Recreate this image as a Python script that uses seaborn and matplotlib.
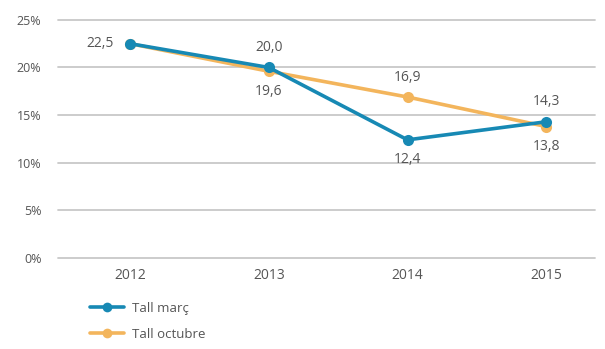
import matplotlib
matplotlib.use("Agg")
import matplotlib.pyplot as plt
import seaborn as sns
import pandas as pd
from matplotlib.lines import Line2D

years = ["2012", "2013", "2014", "2015"]
tall_marc = [22.5, 20.0, 12.4, 14.3]
tall_octubre = [22.5, 19.6, 16.9, 13.8]
y_ticks = [0, 5, 10, 15, 20, 25]
y_tick_labels = ["0%", "5%", "10%", "15%", "20%", "25%"]

blue = "#1789b4"
orange = "#f3b55c"
text_col = "#555555"

sns.set_theme(style="white")
plt.rcParams["font.family"] = ["Open Sans", "DejaVu Sans"]

df = pd.DataFrame({
    "x": list(range(len(years))) * 2,
    "valor": tall_marc + tall_octubre,
    "serie": ["Tall març"] * 4 + ["Tall octubre"] * 4,
})

fig = plt.figure(figsize=(6.05, 3.49), dpi=100)
ax = fig.add_axes([0.096, 0.261, 0.887, 0.682])

sns.lineplot(data=df[df.serie == "Tall octubre"], x="x", y="valor", color=orange,
             lw=2.6, marker="o", markersize=8, markeredgewidth=0, ax=ax, zorder=3)
sns.lineplot(data=df[df.serie == "Tall març"], x="x", y="valor", color=blue,
             lw=2.6, marker="o", markersize=8, markeredgewidth=0, ax=ax, zorder=4)

ax.set_xlim(-0.52, 3.35)
ax.set_ylim(0, 25)
ax.set_yticks(y_ticks)
ax.set_yticklabels(y_tick_labels)
ax.set_xticks(range(len(years)))
ax.set_xticklabels(years)
ax.set_xlabel("")
ax.set_ylabel("")
for s in ax.spines.values():
    s.set_visible(False)
for t in y_ticks:
    ax.axhline(t, color="#c8c8c8", lw=1.3, zorder=1, clip_on=False)
ax.tick_params(axis="both", length=0, colors=text_col)
ax.tick_params(axis="y", pad=12, labelsize=9)
ax.tick_params(axis="x", pad=7, labelsize=10)

def fmt(v):
    return f"{v:.1f}".replace(".", ",")

kw = dict(fontsize=10, color=text_col, zorder=6)
ax.annotate(fmt(tall_marc[0]), (0, tall_marc[0]), xytext=(-12, 0), textcoords="offset points",
            ha="right", va="center", **kw)
ax.annotate(fmt(tall_marc[1]), (1, tall_marc[1]), xytext=(0, 9), textcoords="offset points",
            ha="center", va="bottom", **kw)
ax.annotate(fmt(tall_octubre[1]), (1, tall_octubre[1]), xytext=(0, -9), textcoords="offset points",
            ha="center", va="top", **kw)
ax.annotate(fmt(tall_octubre[2]), (2, tall_octubre[2]), xytext=(0, 9), textcoords="offset points",
            ha="center", va="bottom", **kw)
ax.annotate(fmt(tall_marc[2]), (2, tall_marc[2]), xytext=(0, -9), textcoords="offset points",
            ha="center", va="top", **kw)
ax.annotate(fmt(tall_marc[3]), (3, tall_marc[3]), xytext=(0, 9), textcoords="offset points",
            ha="center", va="bottom", **kw)
ax.annotate(fmt(tall_octubre[3]), (3, tall_octubre[3]), xytext=(0, -9), textcoords="offset points",
            ha="center", va="top", **kw)

handles = [
    Line2D([], [], color=blue, lw=2.6, marker="o", markersize=7, markeredgewidth=0),
    Line2D([], [], color=orange, lw=2.6, marker="o", markersize=7, markeredgewidth=0),
]
fig.legend(handles, ["Tall març", "Tall octubre"], loc="upper left",
           bbox_to_anchor=(0.138, 0.155), frameon=False, fontsize=9.5,
           labelcolor=text_col, handlelength=2.6, handletextpad=0.6,
           labelspacing=1.0, borderpad=0)

fig.savefig("out.png", dpi=100)
